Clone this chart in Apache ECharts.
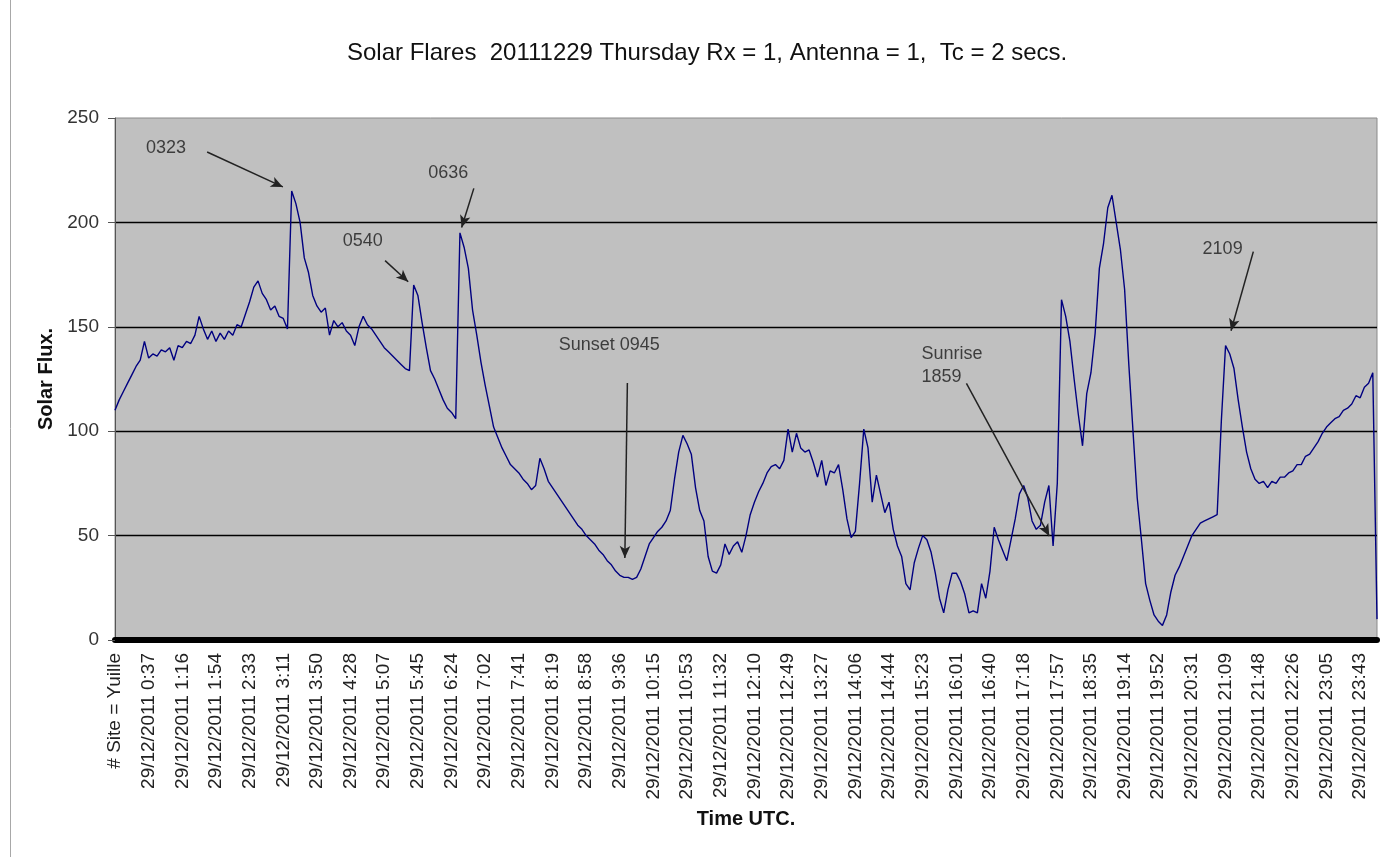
<!DOCTYPE html>
<html>
<head>
<meta charset="utf-8">
<script src="https://cdn.jsdelivr.net/npm/echarts@6/dist/echarts.min.js"></script>
<style>
html,body{margin:0;padding:0;background:#ffffff;}
#chart{width:1392px;height:857px;}
</style>
</head>
<body>
<div id="chart"></div>
<script>
// Tick labels on the time axis (one every 8 samples)
const tickLabels = [
  "# Site = Yuille",
  "29/12/2011 0:37","29/12/2011 1:16","29/12/2011 1:54","29/12/2011 2:33",
  "29/12/2011 3:11","29/12/2011 3:50","29/12/2011 4:28","29/12/2011 5:07",
  "29/12/2011 5:45","29/12/2011 6:24","29/12/2011 7:02","29/12/2011 7:41",
  "29/12/2011 8:19","29/12/2011 8:58","29/12/2011 9:36","29/12/2011 10:15",
  "29/12/2011 10:53","29/12/2011 11:32","29/12/2011 12:10","29/12/2011 12:49",
  "29/12/2011 13:27","29/12/2011 14:06","29/12/2011 14:44","29/12/2011 15:23",
  "29/12/2011 16:01","29/12/2011 16:40","29/12/2011 17:18","29/12/2011 17:57",
  "29/12/2011 18:35","29/12/2011 19:14","29/12/2011 19:52","29/12/2011 20:31",
  "29/12/2011 21:09","29/12/2011 21:48","29/12/2011 22:26","29/12/2011 23:05",
  "29/12/2011 23:43"
];
const samplesPerTick = 8;

// Solar flux samples
const flux = [
  110,115,119,123,127,131,134,143,135,137,
  136,139,138,140,134,141,140,143,142,146,
  155,149,144,148,143,147,144,148,146,151,
  150,156,162,169,172,166,163,158,160,155,
  154,149,215,209,200,183,176,165,160,157,
  159,146,153,150,152,148,146,141,150,155,
  151,149,146,143,140,138,136,134,132,130,
  129,170,165,152,140,129,125,120,115,111,
  109,106,195,188,178,158,146,133,122,112,
  102,97,92,88,84,82,80,77,75,72,
  74,87,82,76,73,70,67,64,61,58,
  55,53,50,48,46,43,41,38,36,33,
  31,30,30,29,30,34,40,46,49,52,
  54,57,62,77,90,98,94,89,73,62,
  57,40,33,32,36,46,41,45,47,42,
  50,60,66,71,75,80,83,84,82,86,
  101,90,99,92,90,91,85,78,86,74,
  81,80,84,72,58,49,52,75,101,92,
  66,79,70,61,66,53,45,40,27,24,
  37,44,50,48,42,32,20,13,24,32,
  32,28,22,13,14,13,27,20,33,54,
  48,43,38,48,58,70,74,68,57,53,
  55,66,74,45,75,163,155,143,125,108,
  93,118,128,147,178,190,207,213,200,187,
  168,132,100,68,48,27,19,12,9,7,
  12,23,31,35,40,45,50,53,56,57,
  58,59,60,105,141,137,130,115,102,90,
  82,77,75,76,73,76,75,78,78,80,
  81,84,84,88,89,92,95,99,102,104,
  106,107,110,111,113,117,116,121,123,128,
  10
];

// Annotation texts: [text, sample position, flux level, alignment]
const annoLabels = [
  ["0323", 12.1, 235.6, "center"],
  ["0540", 58.9, 191.1, "center"],
  ["0636", 79.2, 223.7, "center"],
  ["Sunset 0945", 117.5, 141.3, "center"],
  ["Sunrise\n1859", 191.7, 131.5, "left"],
  ["2109", 263.3, 187.3, "center"]
];
// Annotation arrows: [fromSample, fromFlux, toSample, toFlux]
const annoArrows = [
  [21.9, 233.7, 39.9, 217.0],
  [64.2, 181.7, 69.7, 171.6],
  [85.3, 216.3, 82.4, 197.6],
  [121.8, 123.1, 121.2, 39.3],
  [202.4, 122.9, 222.1, 49.8],
  [270.6, 186.0, 265.3, 148.1]
];

const categories = flux.map((v, i) => String(i));
const FONT = "'Liberation Sans', Arial, sans-serif";

const chart = echarts.init(document.getElementById('chart'), null, {renderer: 'canvas'});
chart.setOption({
  animation: false,
  backgroundColor: '#ffffff',
  title: {
    text: 'Solar Flares  20111229 Thursday Rx = 1, Antenna = 1,  Tc = 2 secs.',
    left: 342, top: 36,
    textStyle: {fontFamily: FONT, fontSize: 24, fontWeight: 'normal', color: '#111'}
  },
  graphic: [{
    type: 'line', silent: true,
    shape: {x1: 10.5, y1: 0, x2: 10.5, y2: 857},
    style: {stroke: '#a8a8a8', lineWidth: 1}
  }],
  grid: {
    left: 115, right: 15, top: 118, bottom: 217,
    show: true, backgroundColor: '#C0C0C0', borderColor: '#8a8a8a', borderWidth: 1
  },
  xAxis: [{
    type: 'category',
    data: categories,
    boundaryGap: false,
    offset: 3,
    name: 'Time UTC.',
    nameLocation: 'middle',
    nameGap: 166,
    nameTextStyle: {fontFamily: FONT, fontSize: 20, fontWeight: 'bold', color: '#111'},
    axisLine: {show: true, lineStyle: {color: '#000', width: 6}},
    axisTick: {show: false},
    splitLine: {show: false},
    axisLabel: {
      interval: (idx) => idx % samplesPerTick === 0,
      formatter: (v, idx) => tickLabels[idx / samplesPerTick] || '',
      rotate: 90, margin: 10,
      fontFamily: FONT, fontSize: 19, color: '#222'
    }
  }, {
    type: 'value', min: 0, max: flux.length - 1, show: false,
    splitLine: {show: false}
  }],
  yAxis: {
    type: 'value', min: 0, max: 250, interval: 50,
    name: 'Solar Flux.',
    nameLocation: 'middle',
    nameGap: 57,
    nameRotate: 90,
    nameTextStyle: {fontFamily: FONT, fontSize: 20, fontWeight: 'bold', color: '#111'},
    axisLine: {show: true, lineStyle: {color: '#555', width: 1}},
    axisTick: {show: true, length: 7, lineStyle: {color: '#555'}},
    axisLabel: {margin: 16, fontFamily: FONT, fontSize: 19, color: '#333'},
    splitLine: {show: true, showMinLine: false, showMaxLine: false,
      lineStyle: {color: '#000', width: 1.3}}
  },
  series: [{
    type: 'line',
    data: flux,
    xAxisIndex: 0,
    showSymbol: false,
    symbol: 'none',
    lineStyle: {color: '#000080', width: 1.4},
    silent: true,
    z: 3
  }, {
    type: 'scatter',
    xAxisIndex: 1,
    yAxisIndex: 0,
    silent: true,
    symbolSize: 1,
    itemStyle: {color: 'rgba(0,0,0,0)'},
    data: annoLabels.map(a => ({name: a[0], value: [a[1], a[2]], label: {align: a[3]}})),
    label: {
      show: true, position: 'inside', formatter: '{b}',
      fontFamily: FONT, fontSize: 18, color: '#1a1a1a', lineHeight: 23
    },
    markLine: {
      silent: true,
      symbol: ['none', 'arrow'],
      symbolSize: [8, 12],
      label: {show: false},
      lineStyle: {color: '#222', width: 1.5, type: 'solid'},
      emphasis: {disabled: true},
      data: annoArrows.map(a => [{coord: [a[0], a[1]]}, {coord: [a[2], a[3]]}])
    },
    z: 5
  }]
});
</script>
</body>
</html>
